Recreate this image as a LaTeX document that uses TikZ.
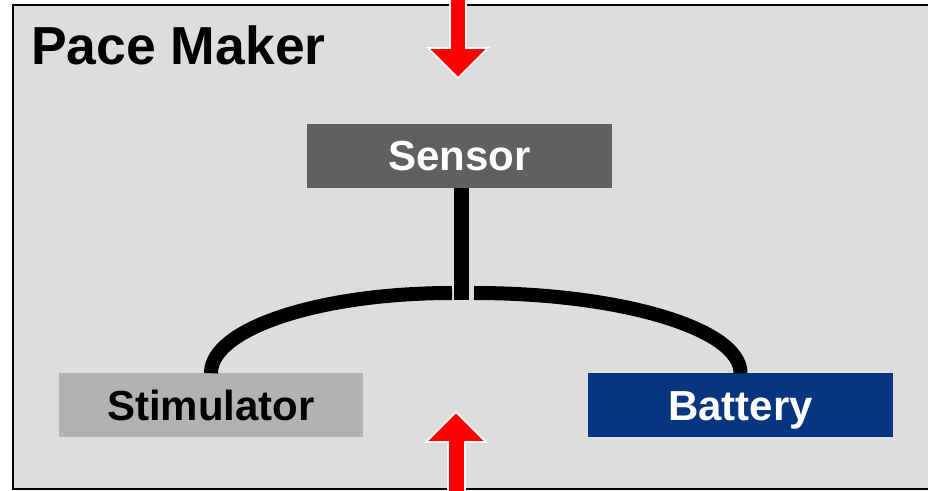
\documentclass[tikz,border=0pt]{standalone}
\usepackage{fontspec}
\setmainfont{Liberation Sans}
\definecolor{panel}{HTML}{DDDDDD}
\definecolor{sensorgray}{HTML}{606060}
\definecolor{stimgray}{HTML}{B2B2B2}
\definecolor{batblue}{RGB}{8,53,128}
\definecolor{arrowred}{HTML}{FF0000}
\begin{document}
\begin{tikzpicture}[x=1pt,y=1pt,
  box/.style={rectangle, inner sep=0pt, minimum width=305pt, minimum height=64pt,
    text height=30pt, text depth=0pt, font=\fontsize{42}{48}\selectfont\bfseries},
  link/.style={line width=14pt, black},
  bigarrow/.style={fill=arrowred, draw=white, line width=1.6pt, line join=miter}]
\useasboundingbox (0,0) rectangle (928,490);
\fill[white] (0,0) rectangle (928,490);
% panel
\fill[panel] (13,1) rectangle (928,485);
\draw[line width=2.5pt] (928,485) -- (13,485) -- (13,1) -- (928,1);
% title
\node[anchor=base west, inner sep=0pt, font=\fontsize{53.5}{60}\selectfont\bfseries] (title) at (31,425) {Pace Maker};
% boxes
\node[box, fill=sensorgray, text=white] (sensor) at (459.5,334) {Sensor};
\node[box, fill=stimgray, text=black, minimum width=304pt] (stim) at (211,85) {Stimulator};
\node[box, fill=batblue, text=white] (bat) at (740.5,85) {Battery};
% connectors
\coordinate (joint) at (461,190);
\coordinate (lstart) at (452,197);
\coordinate (rstart) at (474,197);
\draw[link, line width=15pt] (sensor.south -| joint) -- (joint);
\draw[link] (lstart) arc[start angle=90, end angle=180, x radius=241pt, y radius=80pt] -- (stim.north);
\draw[link] (rstart) arc[start angle=90, end angle=0, x radius=266.5pt, y radius=80pt] -- (bat.north);
% red arrows
\begin{scope}
\clip (0,0) rectangle (928,490);
\draw[bigarrow] (450,500) -- (450,442) -- (428,442) -- (458,412) -- (488,442) -- (466,442) -- (466,500) -- cycle;
\draw[bigarrow] (448,-10) -- (448,48) -- (426,48) -- (456,78) -- (486,48) -- (465,48) -- (465,-10) -- cycle;
\end{scope}
\end{tikzpicture}
\end{document}
